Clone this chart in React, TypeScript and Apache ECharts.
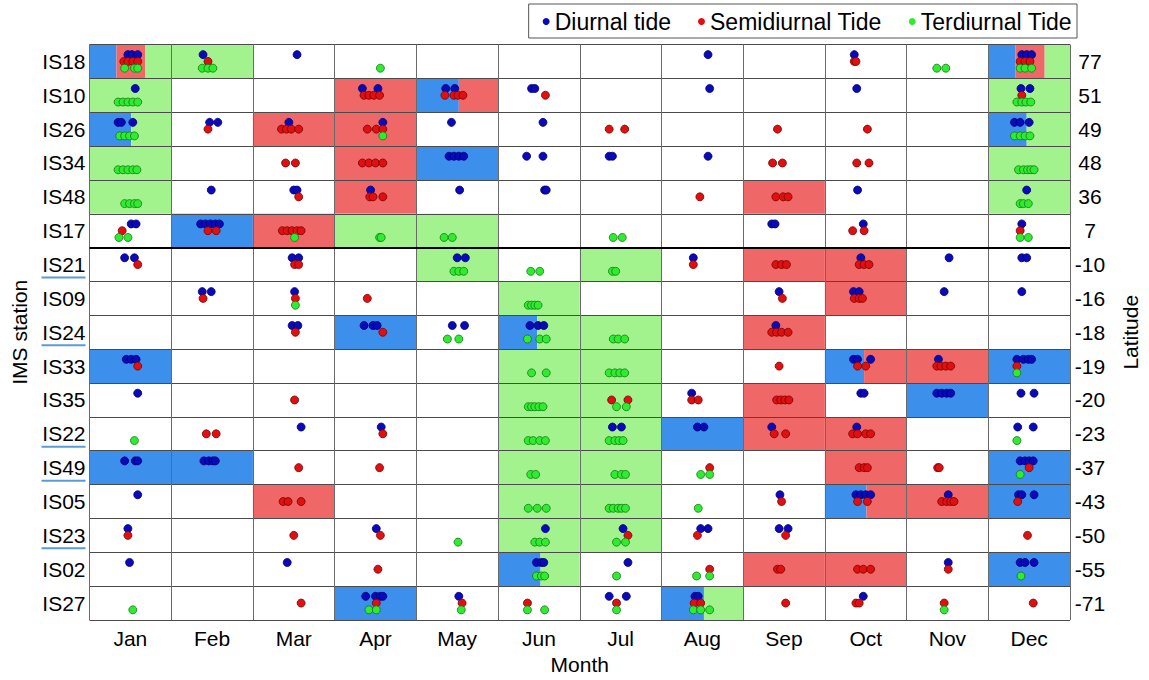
import React, { useEffect, useRef } from 'react';
import * as echarts from 'echarts';

const stations = ['IS18','IS10','IS26','IS34','IS48','IS17','IS21','IS09','IS24','IS33','IS35','IS22','IS49','IS05','IS23','IS02','IS27'];
const latitudes = ['77','51','49','48','36','7','-10','-16','-18','-19','-20','-23','-37','-43','-50','-55','-71'];
const months = ['Jan','Feb','Mar','Apr','May','Jun','Jul','Aug','Sep','Oct','Nov','Dec'];
const underlined = ['IS21','IS24','IS22','IS49','IS23'];
const equatorStation = 'IS21';

// position in month units: 0 = start of Jan, 12 = end of Dec
const diurnal: [string, number[]][] = [
  ['IS18', [0.47, 0.52, 0.59, 1.39, 2.54, 7.57, 9.36, 11.41, 11.47, 11.53]],
  ['IS10', [0.56, 3.34, 3.53, 4.36, 4.47, 5.41, 5.45, 7.59, 9.39, 11.40, 11.51]],
  ['IS26', [0.35, 0.39, 0.53, 1.47, 1.57, 2.44, 3.59, 4.43, 5.55, 11.32, 11.39, 11.50]],
  ['IS34', [4.40, 4.46, 4.52, 4.58, 5.35, 5.55, 6.36, 6.40, 7.57]],
  ['IS48', [1.49, 2.50, 2.54, 3.44, 4.53, 5.57, 5.59, 9.40, 11.47]],
  ['IS17', [0.51, 0.57, 1.36, 1.42, 1.48, 1.54, 1.59, 8.35, 8.39, 9.47, 11.41]],
  ['IS21', [0.43, 0.55, 2.48, 2.56, 4.50, 4.60, 7.39, 9.44, 10.52, 11.41, 11.47]],
  ['IS09', [1.38, 1.49, 2.51, 8.44, 9.35, 9.42, 10.46, 11.41]],
  ['IS24', [2.48, 2.55, 3.36, 3.47, 3.52, 4.44, 4.59, 5.39, 5.49, 5.56, 8.40]],
  ['IS33', [0.45, 0.51, 0.57, 9.35, 9.40, 9.56, 10.39, 11.35, 11.43, 11.49, 11.53]],
  ['IS35', [0.59, 7.37, 9.44, 9.48, 10.37, 10.43, 10.49, 10.54, 11.40, 11.56]],
  ['IS22', [2.59, 3.57, 6.40, 6.51, 7.44, 7.52, 8.35, 9.39, 11.36, 11.55]],
  ['IS49', [0.43, 0.56, 0.59, 1.40, 1.46, 1.51, 1.54, 11.39, 11.45, 11.50, 11.55]],
  ['IS05', [0.59, 8.45, 9.38, 9.44, 9.50, 9.56, 10.51, 11.37, 11.41, 11.56]],
  ['IS23', [0.47, 3.51, 5.58, 6.53, 7.48, 7.57, 8.44, 8.55]],
  ['IS02', [0.49, 2.42, 5.47, 5.53, 5.56, 6.59, 10.51, 11.39, 11.45, 11.56]],
  ['IS27', [3.38, 3.50, 3.56, 3.59, 4.52, 6.36, 6.57, 7.41, 7.45, 9.47]],
];

const semidiurnal: [string, number[]][] = [
  ['IS18', [0.42, 0.47, 0.53, 0.59, 1.45, 9.36, 9.38, 11.39, 11.45, 11.51]],
  ['IS10', [3.36, 3.42, 3.48, 3.55, 4.35, 4.46, 4.51, 4.57, 5.58, 11.41]],
  ['IS26', [1.45, 2.35, 2.41, 2.47, 2.56, 3.40, 3.51, 3.59, 6.36, 6.55, 8.42, 9.52]],
  ['IS34', [2.40, 2.52, 3.34, 3.42, 3.50, 3.59, 8.36, 8.48, 9.39, 9.54]],
  ['IS48', [2.56, 3.43, 3.47, 3.59, 7.47, 8.40, 8.49, 8.55]],
  ['IS17', [0.40, 1.45, 1.55, 2.36, 2.42, 2.48, 2.54, 2.59, 9.34, 9.48, 11.39]],
  ['IS21', [0.59, 2.51, 2.56, 7.39, 8.40, 8.47, 8.53, 9.42, 9.48, 9.54]],
  ['IS09', [1.39, 2.52, 3.40, 8.48, 9.36, 9.42, 9.46]],
  ['IS24', [2.52, 3.59, 8.35, 8.41, 8.47, 8.55]],
  ['IS33', [0.59, 8.44, 9.40, 9.50, 10.37, 10.42, 10.48, 10.54, 11.35]],
  ['IS35', [2.51, 6.39, 6.59, 7.37, 7.45, 8.41, 8.46, 8.51, 8.56]],
  ['IS22', [1.43, 1.55, 3.59, 8.38, 8.52, 9.34, 9.40, 9.50, 9.56]],
  ['IS49', [2.56, 3.55, 7.59, 9.42, 9.48, 9.52, 10.38, 10.40, 11.50]],
  ['IS05', [2.37, 2.43, 2.59, 8.47, 9.40, 9.52, 10.43, 10.49, 10.54, 10.58, 11.36]],
  ['IS23', [0.47, 2.50, 3.56, 6.59, 7.44, 8.52, 11.48]],
  ['IS02', [3.53, 7.59, 8.42, 8.46, 9.40, 9.47, 9.56, 10.51]],
  ['IS27', [2.59, 3.51, 4.56, 5.36, 6.45, 7.40, 7.48, 8.52, 9.38, 9.42, 10.46, 11.55]],
];

const terdiurnal: [string, number[]][] = [
  ['IS18', [0.43, 0.55, 0.59, 1.38, 1.45, 1.51, 3.56, 10.37, 10.48, 11.39, 11.45, 11.53]],
  ['IS10', [0.35, 0.41, 0.47, 0.53, 0.59, 11.35, 11.41, 11.46, 11.52]],
  ['IS26', [0.37, 0.43, 0.49, 0.55, 3.59, 11.32, 11.39, 11.45, 11.51]],
  ['IS34', [0.35, 0.41, 0.47, 0.53, 0.58, 11.37, 11.43, 11.48, 11.52, 11.56]],
  ['IS48', [0.43, 0.49, 0.55, 0.59, 11.39, 11.43, 11.49]],
  ['IS17', [0.36, 0.47, 2.51, 3.55, 3.57, 4.34, 4.44, 6.41, 6.52, 11.39, 11.49]],
  ['IS21', [4.46, 4.52, 4.58, 5.40, 5.51, 6.40, 6.44]],
  ['IS09', [2.52, 5.37, 5.41, 5.45, 5.49]],
  ['IS24', [4.38, 4.52, 5.36, 5.51, 5.59, 6.41, 6.47, 6.55]],
  ['IS33', [5.41, 5.59, 6.36, 6.43, 6.49, 6.55, 11.35]],
  ['IS35', [5.37, 5.41, 5.45, 5.50, 5.55, 6.45, 6.57]],
  ['IS22', [0.55, 5.37, 5.43, 5.51, 5.58, 6.36, 6.43, 6.48, 6.53, 11.35]],
  ['IS49', [5.40, 5.46, 6.43, 6.51, 6.56, 7.48, 7.59, 11.39]],
  ['IS05', [5.37, 5.48, 5.59, 6.36, 6.41, 6.47, 6.51, 6.56, 7.45]],
  ['IS23', [4.51, 5.45, 5.51, 5.58, 6.45, 6.56]],
  ['IS02', [5.47, 5.53, 5.57, 6.45, 7.43, 7.59, 11.40]],
  ['IS27', [0.53, 3.42, 3.51, 4.55, 5.36, 5.57, 6.45, 7.39, 7.48, 7.59, 10.46]],
];

// shading: [station, start, end, dominant tide] (D diurnal, S semidiurnal, T terdiurnal)
const shading: [string, number, number, string][] = [
  ['IS18', 0, 0.33, 'D'], ['IS18', 0.33, 0.68, 'S'], ['IS18', 0.68, 1, 'T'], ['IS18', 1, 2, 'T'],
  ['IS18', 11, 11.33, 'D'], ['IS18', 11.33, 11.69, 'S'], ['IS18', 11.69, 12, 'T'],
  ['IS10', 0, 1, 'T'], ['IS10', 3, 4, 'S'], ['IS10', 4, 4.52, 'D'], ['IS10', 4.52, 5, 'S'], ['IS10', 11, 12, 'T'],
  ['IS26', 0, 0.51, 'D'], ['IS26', 0.51, 1, 'T'], ['IS26', 2, 3, 'S'], ['IS26', 3, 4, 'S'],
  ['IS26', 11, 11.47, 'D'], ['IS26', 11.47, 12, 'T'],
  ['IS34', 0, 1, 'T'], ['IS34', 3, 4, 'S'], ['IS34', 4, 5, 'D'], ['IS34', 11, 12, 'T'],
  ['IS48', 0, 1, 'T'], ['IS48', 3, 4, 'S'], ['IS48', 8, 9, 'S'], ['IS48', 11, 12, 'T'],
  ['IS17', 1, 2, 'D'], ['IS17', 2, 3, 'S'], ['IS17', 3, 4, 'T'], ['IS17', 4, 5, 'T'],
  ['IS21', 4, 5, 'T'], ['IS21', 6, 7, 'T'], ['IS21', 8, 9, 'S'], ['IS21', 9, 10, 'S'],
  ['IS09', 5, 6, 'T'], ['IS09', 9, 10, 'S'],
  ['IS24', 3, 4, 'D'], ['IS24', 5, 5.48, 'D'], ['IS24', 5.48, 6, 'T'], ['IS24', 6, 7, 'T'], ['IS24', 8, 9, 'S'],
  ['IS33', 0, 1, 'D'], ['IS33', 5, 6, 'T'], ['IS33', 6, 7, 'T'], ['IS33', 9, 9.48, 'D'], ['IS33', 9.48, 10, 'S'],
  ['IS33', 10, 11, 'S'], ['IS33', 11, 12, 'D'],
  ['IS35', 5, 6, 'T'], ['IS35', 6, 7, 'T'], ['IS35', 8, 9, 'S'], ['IS35', 10, 11, 'D'],
  ['IS22', 5, 6, 'T'], ['IS22', 6, 7, 'T'], ['IS22', 7, 8, 'D'], ['IS22', 8, 9, 'S'], ['IS22', 9, 10, 'S'],
  ['IS49', 0, 1, 'D'], ['IS49', 1, 2, 'D'], ['IS49', 5, 6, 'T'], ['IS49', 6, 7, 'T'], ['IS49', 9, 10, 'S'], ['IS49', 11, 12, 'D'],
  ['IS05', 2, 3, 'S'], ['IS05', 5, 6, 'T'], ['IS05', 6, 7, 'T'], ['IS05', 9, 9.51, 'D'], ['IS05', 9.51, 10, 'S'],
  ['IS05', 10, 11, 'S'], ['IS05', 11, 12, 'D'],
  ['IS23', 5, 6, 'T'], ['IS23', 6, 7, 'T'],
  ['IS02', 5, 5.52, 'D'], ['IS02', 5.52, 6, 'T'], ['IS02', 8, 9, 'S'], ['IS02', 9, 10, 'S'], ['IS02', 11, 12, 'D'],
  ['IS27', 3, 4, 'D'], ['IS27', 7, 7.52, 'D'], ['IS27', 7.52, 8, 'T'],
];

const tideTypes = ['D', 'S', 'T'];
const seriesNames = ['Diurnal tide', 'Semidiurnal Tide', 'Terdiurnal Tide'];
const dotColors = ['#0a0ab8', '#e01010', '#30ec30'];
const dotBorders = ['#00007a', '#7a0000', '#127a12'];
const shadeColors = ['#3d8fec', '#f06767', '#a2f38e'];
const levelOffset = [-0.2, 0, 0.2];
const FONT = '"Liberation Sans", Arial, Helvetica, sans-serif';

export default function App() {
  const ref = useRef<HTMLDivElement>(null);
  useEffect(() => {
    const chart = echarts.init(ref.current!, null, { renderer: 'svg' });
    const rowOf = (s: string) => stations.indexOf(s);
    const toPoints = (arr: [string, number[]][], level: number) => {
      const out: number[][] = [];
      arr.forEach(([s, xs]) => xs.forEach((x) => out.push([x, rowOf(s) + 0.5 + levelOffset[level]])));
      return out;
    };
    const groups = [diurnal, semidiurnal, terdiurnal];

    const scatterSeries = groups.map((g, i) => ({
      type: 'scatter',
      name: seriesNames[i],
      xAxisIndex: 0,
      yAxisIndex: 0,
      data: toPoints(g, i),
      symbol: 'circle',
      symbolSize: 8,
      z: 5,
      silent: true,
      itemStyle: { color: dotColors[i], borderColor: dotBorders[i], borderWidth: 0.8, opacity: 1 },
    }));

    const option: any = {
      animation: false,
      backgroundColor: '#ffffff',
      textStyle: { fontFamily: FONT },
      grid: { left: 89.5, right: 72, top: 44.5, bottom: 58, containLabel: false },
      legend: {
        data: seriesNames,
        top: 4,
        right: 72,
        icon: 'circle',
        itemWidth: 7,
        itemHeight: 7,
        itemGap: 27,
        itemStyle: { borderWidth: 0 },
        textStyle: { fontSize: 23, fontFamily: FONT, color: '#000' },
        borderColor: '#555',
        borderWidth: 1,
        borderRadius: 0,
        padding: [6, 5, 5, 14],
        backgroundColor: '#fff',
      },
      xAxis: [
        {
          type: 'value', min: 0, max: 12, interval: 1, z: 3,
          axisLabel: { show: false }, axisTick: { show: false }, axisLine: { show: false },
          splitLine: { show: true, lineStyle: { color: '#6a6a6a', width: 1 } },
        },
        {
          type: 'category', data: months, position: 'bottom', boundaryGap: true,
          axisLine: { show: false }, axisTick: { show: false }, splitLine: { show: false },
          axisLabel: { fontSize: 21, color: '#000', fontFamily: FONT, margin: 8 },
          name: 'Month', nameLocation: 'middle', nameGap: 34,
          nameTextStyle: { fontSize: 21, color: '#000', fontFamily: FONT },
        },
      ],
      yAxis: [
        {
          type: 'value', min: 0, max: 17, interval: 1, inverse: true, z: 3,
          axisLabel: { show: false }, axisTick: { show: false }, axisLine: { show: false },
          splitLine: { show: true, lineStyle: { color: '#4a4a4a', width: 1 } },
        },
        {
          type: 'category', data: stations, inverse: true, position: 'left', boundaryGap: true,
          axisLine: { show: false }, axisTick: { show: false }, splitLine: { show: false },
          axisLabel: { fontSize: 21, color: '#000', fontFamily: FONT, margin: 4 },
          name: 'IMS station', nameLocation: 'middle', nameGap: 60, nameRotate: 90,
          nameTextStyle: { fontSize: 21, color: '#000', fontFamily: FONT },
        },
        {
          type: 'category', data: latitudes, inverse: true, position: 'right', boundaryGap: true,
          axisLine: { show: false }, axisTick: { show: false }, splitLine: { show: false },
          axisLabel: { fontSize: 21, color: '#000', fontFamily: FONT, margin: 20, align: 'center' },
          name: 'Latitude', nameLocation: 'middle', nameGap: 50, nameRotate: 90,
          nameTextStyle: { fontSize: 21, color: '#000', fontFamily: FONT },
        },
      ],
      series: [
        {
          type: 'custom',
          name: 'shading',
          xAxisIndex: 0,
          yAxisIndex: 0,
          z: 1,
          silent: true,
          encode: { x: [0, 1], y: 2 },
          data: shading.map(([s, a, b, t]) => [a, b, rowOf(s), tideTypes.indexOf(t)]),
          renderItem: (params: any, api: any) => {
            const p0 = api.coord([api.value(0), api.value(2)]);
            const p1 = api.coord([api.value(1), api.value(2) + 1]);
            return {
              type: 'rect',
              shape: { x: p0[0], y: p0[1], width: p1[0] - p0[0], height: p1[1] - p0[1] },
              style: { fill: shadeColors[api.value(3)] },
            };
          },
          markLine: {
            silent: true,
            symbol: ['none', 'none'],
            label: { show: false },
            lineStyle: { color: '#000', width: 2, type: 'solid' },
            data: [{ yAxis: rowOf(equatorStation) }],
          },
        },
        {
          type: 'custom',
          name: 'underline',
          xAxisIndex: 0,
          yAxisIndex: 0,
          z: 4,
          silent: true,
          clip: false,
          encode: { x: 0, y: 1 },
          data: underlined.map((s) => [0, rowOf(s) + 0.5]),
          renderItem: (params: any, api: any) => {
            const p = api.coord([api.value(0), api.value(1)]);
            return {
              type: 'line',
              shape: { x1: p[0] - 48, y1: p[1] + 13, x2: p[0] - 4, y2: p[1] + 13 },
              style: { stroke: '#5b9bd5', lineWidth: 2 },
            };
          },
        },
        ...scatterSeries,
      ],
    };
    chart.setOption(option);
    return () => chart.dispose();
  }, []);
  return <div ref={ref} style={{ position: 'absolute', left: 0, top: 0, width: 1149, height: 680 }} />;
}
